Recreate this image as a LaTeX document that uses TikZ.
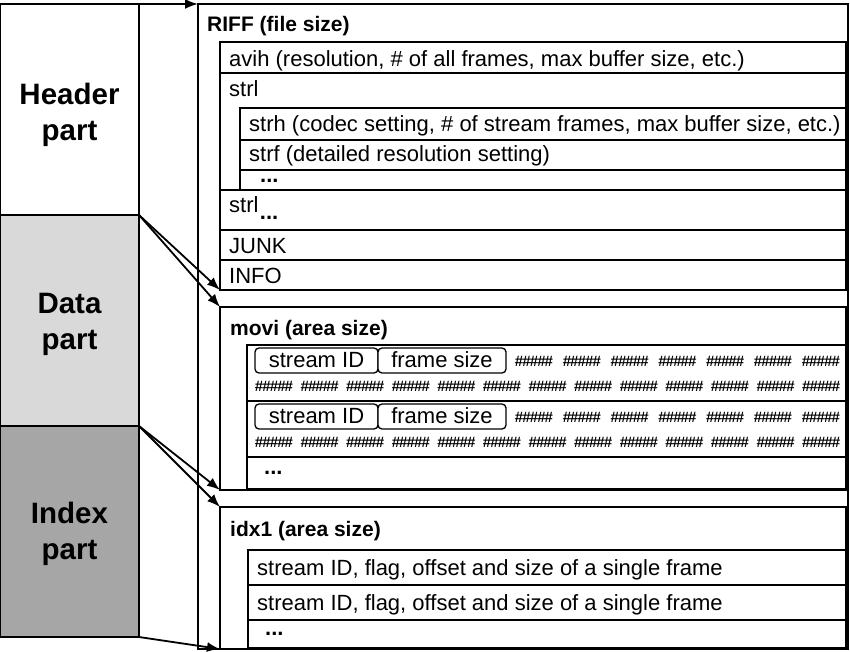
\documentclass[tikz,border=0pt]{standalone}
\usepackage{fontspec}
\setmainfont{Liberation Sans}
\usepackage{tikz}
\usetikzlibrary{arrows.meta}
\definecolor{datagray}{HTML}{D9D9D9}
\definecolor{idxgray}{HTML}{A6A6A6}
\newcommand{\hashes}{\#\kern-0.9pt\#\kern-0.9pt\#\kern-0.9pt\#\kern-0.9pt\#}

\begin{document}
\begin{tikzpicture}[x=1pt,y=-1pt,
  font=\fontsize{22}{26}\selectfont,
  part/.style={draw,line width=1.3pt,anchor=north west,minimum width=139pt,minimum height=211pt,inner sep=0pt,outer sep=0pt},
  plbl/.style={inner sep=0pt,align=center,font=\fontsize{29.5}{36}\selectfont\bfseries},
  cont/.style={draw,line width=1.5pt,fill=white,anchor=north west,inner sep=0pt,outer sep=0pt},
  txt/.style={anchor=west,inner sep=0pt,text height=16pt,text depth=4.6pt},
  dots/.style={anchor=west,inner sep=0pt,font=\fontsize{22}{26}\selectfont\bfseries},
  lbl/.style={anchor=base west,inner sep=0pt,font=\fontsize{21}{25}\selectfont\bfseries},
  tag/.style={draw,line width=1.3pt,rounded corners=4pt,fill=white,anchor=north west,minimum height=25pt,inner sep=0pt,outer sep=0pt,text height=16pt,text depth=2pt},
  hash/.style={inner sep=0pt,font=\fontsize{15}{16}\selectfont\bfseries},
  arr/.style={-{Latex[length=13pt,width=10pt]},line width=1.8pt}]
  \useasboundingbox (0,0) rectangle (850,652);
  % left column
  \node[part] (hdr) at (0,4) {};
  \node[part,fill=datagray] (dat) at (hdr.south west) {};
  \node[part,fill=idxgray] (idx) at (dat.south west) {};
  \node[plbl] (hdrl) at ([shift={(0,5)}]hdr.center) {Header\\part};
  \node[plbl] (datl) at ([shift={(0,4)}]dat.center) {Data\\part};
  \node[plbl] (idxl) at ([shift={(0,2)}]idx.center) {Index\\part};
  % RIFF file
  \node[cont,minimum width=650pt,minimum height=645pt] (riff) at (198,4) {};
  \node[lbl] (riffl) at ([shift={(9,28)}]riff.north west) {RIFF (file size)};
  \node[cont,minimum width=626pt,minimum height=31pt] (avih) at ([shift={(22,38)}]riff.north west) {};
  \node[txt] (aviht) at ([shift={(9,3)}]avih.west) {avih (resolution, \# of all frames, max buffer size, etc.)};
  \node[cont,minimum width=626pt,minimum height=117pt] (strl) at (avih.south west) {};
  \node[txt] (strlt) at ([shift={(9,18)}]strl.north west) {strl};
  \node[cont,minimum width=606pt,minimum height=32pt] (strh) at ([shift={(20,35)}]strl.north west) {};
  \node[txt] (strht) at ([shift={(9,2)}]strh.west) {strh (codec setting, \# of stream frames, max buffer size, etc.)};
  \node[cont,minimum width=606pt,minimum height=30pt] (strf) at (strh.south west) {};
  \node[txt] (strft) at ([shift={(9,1)}]strf.west) {strf (detailed resolution setting)};
  \node[cont,minimum width=606pt,minimum height=20pt] (strd) at (strf.south west) {};
  \node[dots] (strdt) at ([shift={(20,1)}]strd.west) {...};
  \node[cont,minimum width=626pt,minimum height=40pt] (strl2) at (strl.south west) {};
  \node[txt] (strl2t) at ([shift={(9,-3)}]strl2.west) {strl};
  \node[dots,anchor=north west] (strl2d) at ([shift={(1,-1)}]strl2t.south east) {...};
  \node[cont,minimum width=626pt,minimum height=30pt] (junk) at (strl2.south west) {};
  \node[txt] (junkt) at ([shift={(9,3)}]junk.west) {JUNK};
  \node[cont,minimum width=626pt,minimum height=30pt] (info) at (junk.south west) {};
  \node[txt] (infot) at ([shift={(9,3)}]info.west) {INFO};
  % movi
  \node[cont,minimum width=626pt,minimum height=183pt] (movi) at ([shift={(0,17)}]info.south west) {};
  \node[lbl] (movil) at ([shift={(10,28)}]movi.north west) {movi (area size)};
  \node[cont,minimum width=599pt,minimum height=56pt] (frm1) at ([shift={(27,38)}]movi.north west) {};
  \node[cont,minimum width=599pt,minimum height=56pt] (frm2) at (frm1.south west) {};
  \node[cont,minimum width=599pt,minimum height=32pt] (movd) at (frm2.south west) {};
  \node[dots] (movdt) at ([shift={(17,0)}]movd.west) {...};
  \foreach \f in {1,2}{
    \node[tag,minimum width=123pt] (sid\f) at ([shift={(8,3)}]frm\f.north west) {stream ID};
    \node[tag,minimum width=128pt] (fsz\f) at (sid\f.north east) {frame size};
    \foreach \i in {0,...,6}
      \node[hash] (ha\f-\i) at ([shift={(\i*47.8+287,16)}]frm\f.north west) {\hashes};
    \foreach \i in {0,...,12}
      \node[hash] (hb\f-\i) at ([shift={(\i*45.6+27,41)}]frm\f.north west) {\hashes};
  }
  % idx1
  \node[cont,minimum width=626pt,minimum height=142pt] (idx1) at ([shift={(0,17)}]movi.south west) {};
  \node[lbl] (idx1l) at ([shift={(10,29)}]idx1.north west) {idx1 (area size)};
  \node[cont,minimum width=598pt,minimum height=35pt] (ent1) at ([shift={(28,43)}]idx1.north west) {};
  \node[txt] (ent1t) at ([shift={(9,2)}]ent1.west) {stream ID, flag, offset and size of a single frame};
  \node[cont,minimum width=598pt,minimum height=35pt] (ent2) at (ent1.south west) {};
  \node[txt] (ent2t) at ([shift={(9,2)}]ent2.west) {stream ID, flag, offset and size of a single frame};
  \node[cont,minimum width=598pt,minimum height=28pt] (entd) at (ent2.south west) {};
  \node[dots] (entdt) at ([shift={(17,0)}]entd.west) {...};
  % arrows
  \draw[arr] (hdr.north east) -- (riff.north west);
  \draw[arr] (dat.north east) -- (info.south west);
  \draw[arr] (dat.north east) -- (movi.north west);
  \draw[arr] (idx.north east) -- (movi.south west);
  \draw[arr] (idx.north east) -- (idx1.north west);
  \draw[arr] (idx.south east) -- (idx1.south west);
\end{tikzpicture}
\end{document}
